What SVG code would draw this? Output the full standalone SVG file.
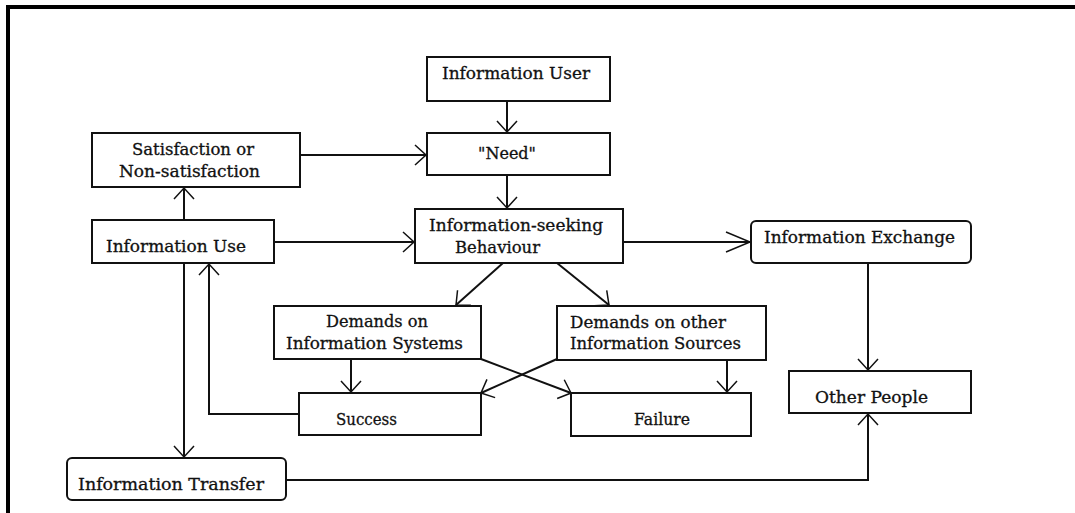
<svg xmlns="http://www.w3.org/2000/svg" width="1075" height="513" viewBox="0 0 1075 513">
<style>
.box{fill:#fff;stroke:#111;stroke-width:2}
.t{font-family:"DejaVu Serif","Liberation Serif",serif;font-size:16px;fill:#111;stroke:#111;stroke-width:0.3}
.c{fill:none;stroke:#111;stroke-width:2}
</style>
<defs>
<marker id="ah" viewBox="-14 -12 16 24" markerWidth="16" markerHeight="24" refX="0" refY="0" orient="auto" markerUnits="userSpaceOnUse">
<path d="M-11,-10 L0,0 L-11,10" fill="none" stroke="#111" stroke-width="1.5"/>
</marker>
<marker id="ahl" viewBox="-27 -13 29 26" markerWidth="29" markerHeight="26" refX="0" refY="0" orient="auto" markerUnits="userSpaceOnUse">
<path d="M-24,-10 L0,0 L-24,10" fill="none" stroke="#111" stroke-width="1.5"/>
</marker>
</defs>
<rect x="0" y="0" width="1075" height="513" fill="#fff"/>
<rect x="6" y="5" width="1069" height="4" fill="#000"/>
<rect x="6" y="5" width="4" height="508" fill="#000"/>

<g id="connectors">
<line class="c" x1="507" y1="101" x2="507" y2="132" marker-end="url(#ah)"/>
<line class="c" x1="507" y1="175" x2="507" y2="208" marker-end="url(#ah)"/>
<line class="c" x1="300" y1="155" x2="426" y2="155" marker-end="url(#ah)"/>
<line class="c" x1="274" y1="242" x2="414" y2="242" marker-end="url(#ah)"/>
<line class="c" x1="184" y1="220" x2="184" y2="188" marker-end="url(#ah)"/>
<line class="c" x1="623" y1="242" x2="750" y2="242" marker-end="url(#ahl)"/>
<line class="c" x1="868" y1="263" x2="868" y2="370" marker-end="url(#ah)"/>
<line class="c" x1="503" y1="263" x2="456" y2="305" stroke-width="1.5" marker-end="url(#ah)"/>
<line class="c" x1="557" y1="263" x2="609" y2="305" stroke-width="1.5" marker-end="url(#ah)"/>
<line class="c" x1="351" y1="359" x2="351" y2="392" marker-end="url(#ah)"/>
<line class="c" x1="727" y1="360" x2="727" y2="392" marker-end="url(#ah)"/>
<line class="c" x1="481" y1="359" x2="571" y2="393" stroke-width="1.5" marker-end="url(#ah)"/>
<line class="c" x1="557" y1="359" x2="481" y2="393" stroke-width="1.5" marker-end="url(#ah)"/>
<polyline class="c" points="299,414 209,414 209,264" marker-end="url(#ah)"/>
<line class="c" x1="184" y1="263" x2="184" y2="457" marker-end="url(#ah)"/>
<polyline class="c" points="286,480 868,480 868,414" marker-end="url(#ah)"/>
</g>

<g id="info-user"><rect class="box" x="427" y="57" width="183" height="44"/><text class="t" x="442" y="79" textLength="148" lengthAdjust="spacingAndGlyphs">Information User</text></g>
<g id="need"><rect class="box" x="427" y="133" width="183" height="42"/><text class="t" x="507" y="159" text-anchor="middle">"Need"</text></g>
<g id="seeking"><rect class="box" x="415" y="209" width="208" height="54"/><text class="t" x="429" y="231" textLength="174" lengthAdjust="spacingAndGlyphs">Information-seeking</text><text class="t" x="455" y="253" textLength="85" lengthAdjust="spacingAndGlyphs">Behaviour</text></g>
<g id="satisfaction"><rect class="box" x="92" y="133" width="208" height="54"/><text class="t" x="132" y="155" textLength="122" lengthAdjust="spacingAndGlyphs">Satisfaction or</text><text class="t" x="119" y="177" textLength="141" lengthAdjust="spacingAndGlyphs">Non-satisfaction</text></g>
<g id="info-use"><rect class="box" x="92" y="220" width="182" height="43"/><text class="t" x="106" y="252" textLength="140" lengthAdjust="spacingAndGlyphs">Information Use</text></g>
<g id="info-exchange"><rect class="box" x="751" y="221" width="220" height="42" rx="5"/><text class="t" x="764" y="243" textLength="191" lengthAdjust="spacingAndGlyphs">Information Exchange</text></g>
<g id="demands-systems"><rect class="box" x="274" y="306" width="207" height="53"/><text class="t" x="326" y="327" textLength="102" lengthAdjust="spacingAndGlyphs">Demands on</text><text class="t" x="286" y="349" textLength="177" lengthAdjust="spacingAndGlyphs">Information Systems</text></g>
<g id="demands-other"><rect class="box" x="557" y="306" width="209" height="54"/><text class="t" x="570" y="328" textLength="156" lengthAdjust="spacingAndGlyphs">Demands on other</text><text class="t" x="570" y="349" textLength="171" lengthAdjust="spacingAndGlyphs">Information Sources</text></g>
<g id="success"><rect class="box" x="299" y="393" width="182" height="42"/><text class="t" x="336" y="425" textLength="61" lengthAdjust="spacingAndGlyphs">Success</text></g>
<g id="failure"><rect class="box" x="571" y="393" width="180" height="43"/><text class="t" x="634" y="425" textLength="56" lengthAdjust="spacingAndGlyphs">Failure</text></g>
<g id="other-people"><rect class="box" x="789" y="371" width="182" height="42"/><text class="t" x="815" y="403" textLength="113" lengthAdjust="spacingAndGlyphs">Other People</text></g>
<g id="info-transfer"><rect class="box" x="67" y="458" width="219" height="42" rx="5"/><text class="t" x="78" y="490" textLength="186" lengthAdjust="spacingAndGlyphs">Information Transfer</text></g>
</svg>
